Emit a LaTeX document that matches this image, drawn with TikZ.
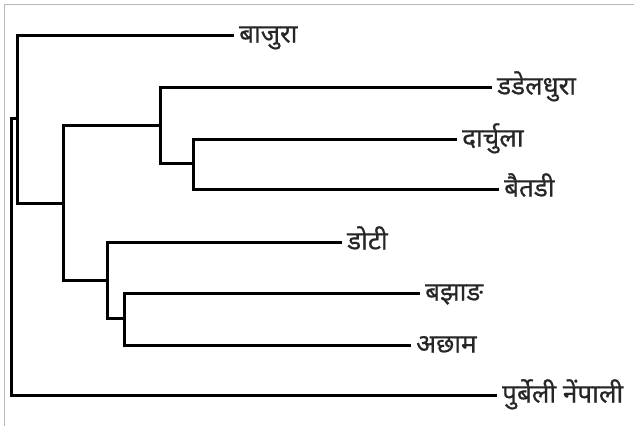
\documentclass[tikz,border=0pt]{standalone}
\usepackage{fontspec}
\newfontfamily\devfont[Script=Devanagari,FakeBold=0.6]{Noto Sans}
\begin{document}
\begin{tikzpicture}[x=1pt,y=-1pt,
  branch/.style={line width=3pt,line cap=rect,line join=miter,black},
  leaf/.style={anchor=west,inner xsep=7pt,inner ysep=0pt,font=\devfont\fontsize{26}{30}\selectfont,text height=1.7em,text depth=0.2em,text=black!85}]
\useasboundingbox (0,0) rectangle (634,426);
\draw[line width=1pt,color=black!28] (4,426) -- (4,4) -- (634,4);
% internal nodes
\coordinate (r) at (11,118);
\coordinate (A) at (17,118);
\coordinate (B) at (63,203);
\coordinate (C) at (160,125);
\coordinate (D) at (193,163);
\coordinate (E) at (107,280);
\coordinate (F) at (124,318);
% leaves
\node[leaf] (baj) at (232,35) {बाजुरा};
\node[leaf] (dad) at (490,87) {डडेलधुरा};
\node[leaf] (dar) at (455,139) {दार्चुला};
\node[leaf] (bai) at (497,189) {बैतडी};
\node[leaf] (dot) at (340,242) {डोटी};
\node[leaf] (bjh) at (418,293) {बझाङ};
\node[leaf] (ach) at (409,345) {अछाम};
\node[leaf] (pur) at (495,395) {पुर्बेली नेंपाली};
% connectors
\draw[branch] (r) |- (A);
\draw[branch] (r) |- (pur.west);
\draw[branch] (A) |- (baj.west);
\draw[branch] (A) |- (B);
\draw[branch] (B) |- (C);
\draw[branch] (B) |- (E);
\draw[branch] (C) |- (dad.west);
\draw[branch] (C) |- (D);
\draw[branch] (D) |- (dar.west);
\draw[branch] (D) |- (bai.west);
\draw[branch] (E) |- (dot.west);
\draw[branch] (E) |- (F);
\draw[branch] (F) |- (bjh.west);
\draw[branch] (F) |- (ach.west);
\end{tikzpicture}
\end{document}
